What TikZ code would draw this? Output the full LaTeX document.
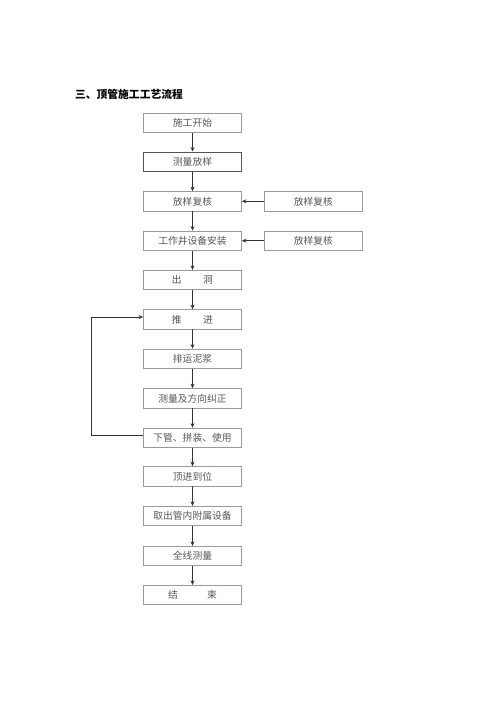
\documentclass[tikz,border=0pt]{standalone}
\usepackage{fontspec}
\newfontfamily\cjk{Noto Sans CJK SC}
\usetikzlibrary{arrows.meta,positioning}
\definecolor{boxline}{HTML}{9A9A9A}
\definecolor{boxtext}{HTML}{555555}
\definecolor{arrowc}{HTML}{333333}
\tikzset{
  x=1bp,y=-1bp,
  stepbox/.style={draw=boxline,line width=0.7pt,minimum width=98bp,minimum height=19.5bp,inner sep=0pt,text=boxtext,font=\cjk\fontsize{9.8}{11}\selectfont},
  darkbox/.style={stepbox,draw=boxtext,line width=0.9pt},
  flow/.style={draw=arrowc,line width=0.8pt,-{Stealth[length=4.5bp,width=4bp]}}
}
\begin{document}
\begin{tikzpicture}
\useasboundingbox (0,0) rectangle (500,708);
\node[anchor=west,inner sep=0pt,font=\cjk\bfseries\fontsize{10.8}{12}\selectfont] (title) at (75,94) {三、顶管施工工艺流程};
\node[stepbox] (s1) at (192.5,123) {施工开始};
\node[darkbox] (s2) at (192.5,161.7) {测量放样};
\node[stepbox] (s3) at (192.5,201.3) {放样复核};
\node[stepbox] (s4) at (192.5,240.7) {工作井设备安装};
\node[stepbox] (s5) at (192.5,280) {出\hspace{2.2em}洞};
\node[stepbox] (s6) at (192.5,319.3) {推\hspace{2.2em}进};
\node[stepbox] (s7) at (192.5,358.7) {排运泥浆};
\node[stepbox] (s8) at (192.5,398.3) {测量及方向纠正};
\node[stepbox] (s9) at (192.5,437.7) {下管、拼装、使用};
\node[stepbox] (s10) at (192.5,476.3) {顶进到位};
\node[stepbox] (s11) at (192.5,516) {取出管内附属设备};
\node[stepbox] (s12) at (192.5,556) {全线测量};
\node[stepbox] (s13) at (192.5,595) {结\hspace{3em}束};
\node[stepbox] (r1) at (313.3,201.3) {放样复核};
\node[stepbox] (r2) at (313.3,240.7) {放样复核};
\foreach \a/\b in {s1/s2,s2/s3,s3/s4,s4/s5,s5/s6,s6/s7,s7/s8,s8/s9,s9/s10,s10/s11,s11/s12,s12/s13}
  \draw[flow] (\a) -- (\b);
\draw[flow] (r1) -- (s3);
\draw[flow] (r2) -- (s4);
\coordinate (lb) at (91,435);
\coordinate (lt) at (91,317);
\draw[flow] (s9.west |- lb) -- (lb) -- (lt) -- (s6.west |- lt);
\end{tikzpicture}
\end{document}
